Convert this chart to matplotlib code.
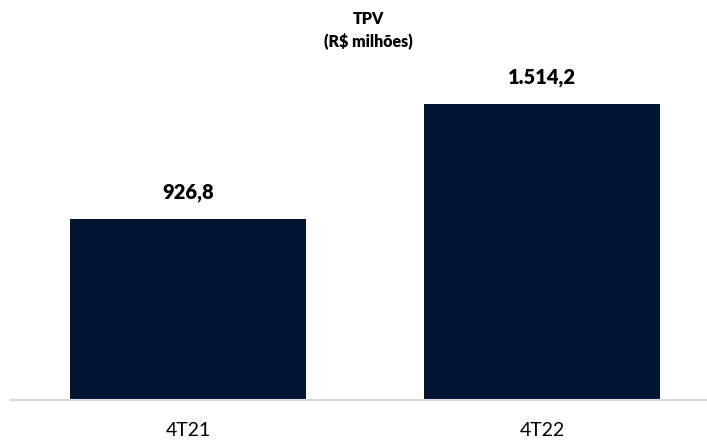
"""
TPV bar chart - 4T21 vs 4T22
"""
import matplotlib
matplotlib.use('Agg')
import matplotlib.pyplot as plt

periods = ['4T21', '4T22']
tpv_values = [926.8, 1514.2]
value_labels = ['926,8', '1.514,2']

plt.rcParams['font.family'] = ['Lato', 'DejaVu Sans']

W, H = 707, 440
fig = plt.figure(figsize=(W / 100, H / 100), dpi=100)

# axes placed in pixel terms: x from 11 to 719, y from 400 (baseline) up to 60
ax = fig.add_axes([11 / W, (H - 400) / H, 708 / W, 340 / H])

x = list(range(len(periods)))
ax.bar(x, tpv_values, width=0.664, color='#021533', zorder=2)
ax.set_xlim(-0.5, 1.5)
ax.set_ylim(0, 1740)

for xi, val, lab in zip(x, tpv_values, value_labels):
    ax.annotate(lab, (xi, val), xytext=(0, 12), textcoords='offset points',
                ha='center', va='bottom', fontsize=14.5, fontweight='heavy', color='#000000')

for side in ['top', 'right', 'left']:
    ax.spines[side].set_visible(False)
ax.spines['bottom'].set_color('#d9d9d9')
ax.spines['bottom'].set_linewidth(1.5)

ax.set_yticks([])
ax.set_xticks(x)
ax.set_xticklabels(periods, fontsize=14, color='#000000')
ax.tick_params(axis='x', length=0, pad=16)

fig.text(368 / W, 1 - 30 / H, 'TPV\n(R$ milhões)', ha='center', va='center',
         fontsize=11.5, fontweight='heavy', linespacing=1.35)

fig.savefig('out.png', dpi=100)
